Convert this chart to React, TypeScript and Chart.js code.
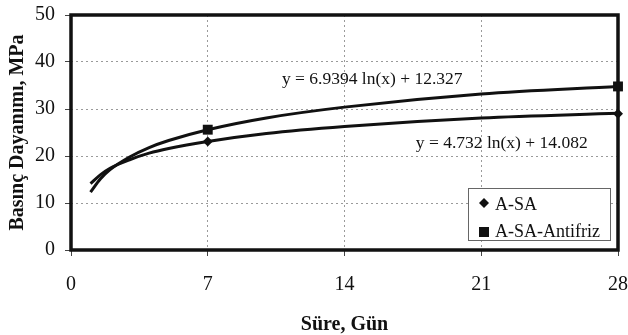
import React, { useEffect, useRef } from "react";
import { Chart, registerables } from "chart.js";

Chart.register(...registerables);

// Trend-curve sample days and values
const trendDays = [1, 1.5, 2, 3, 4, 5, 7, 10, 14, 21, 28];
const trendASA = [14.1, 16.0, 17.4, 19.2, 20.6, 21.6, 23.1, 24.8, 26.3, 28.1, 29.1];
const trendAntifriz = [12.3, 15.1, 17.1, 19.8, 21.8, 23.3, 25.6, 28.1, 30.4, 33.2, 34.8];

// Measured points
const sampleDays = [7, 28];
const valuesASA = [23.1, 29.0];
const valuesAntifriz = [25.6, 34.8];

const seriesNames = ["A-SA", "A-SA-Antifriz"];
const equationAntifriz = "y = 6.9394 ln(x) + 12.327";
const equationASA = "y = 4.732 ln(x) + 14.082";

const xTicks = [0, 7, 14, 21, 28];
const yTicks = [0, 10, 20, 30, 40, 50];
const xTitle = "Süre, Gün";
const yTitle = "Basınç Dayanımı, MPa";

const FONT = "'Liberation Serif', 'Times New Roman', serif";
const INK = "#111";

const toXY = (xs: number[], ys: number[]) => xs.map((x, i) => ({ x, y: ys[i] }));

export default function App() {
  const ref = useRef<HTMLCanvasElement | null>(null);

  useEffect(() => {
    if (!ref.current) return;

    const framePlugin = {
      id: "frameAndText",
      afterDatasetsDraw(chart: any) {
        const { ctx, chartArea: a, scales } = chart;
        ctx.save();
        // thick frame
        ctx.strokeStyle = INK;
        ctx.lineWidth = 3.5;
        ctx.strokeRect(a.left, a.top, a.right - a.left, a.bottom - a.top);

        // equations
        ctx.fillStyle = INK;
        ctx.font = `17.5px ${FONT}`;
        ctx.textBaseline = "middle";
        ctx.textAlign = "left";
        ctx.fillText(equationAntifriz, scales.x.getPixelForValue(10.8), scales.y.getPixelForValue(36.4));
        ctx.fillText(equationASA, scales.x.getPixelForValue(17.65), scales.y.getPixelForValue(22.6));

        // legend box
        const bx = a.right - 150;
        const by = a.bottom - 62;
        const bw = 142;
        const bh = 52;
        ctx.fillStyle = "#fff";
        ctx.fillRect(bx, by, bw, bh);
        ctx.strokeStyle = "#666";
        ctx.lineWidth = 1;
        ctx.strokeRect(bx + 0.5, by + 0.5, bw, bh);

        ctx.fillStyle = INK;
        // diamond
        const dx = bx + 16, dy = by + 15;
        ctx.beginPath();
        ctx.moveTo(dx, dy - 5);
        ctx.lineTo(dx + 5, dy);
        ctx.lineTo(dx, dy + 5);
        ctx.lineTo(dx - 5, dy);
        ctx.closePath();
        ctx.fill();
        // square
        ctx.fillRect(bx + 11, by + 39, 10, 10);

        ctx.font = `18px ${FONT}`;
        ctx.textBaseline = "middle";
        ctx.fillText(seriesNames[0], bx + 27, by + 17);
        ctx.fillText(seriesNames[1], bx + 27, by + 44);
        ctx.restore();
      },
    };

    const chart = new Chart(ref.current, {
      type: "scatter",
      data: {
        datasets: [
          {
            label: seriesNames[0] + " trend",
            data: toXY(trendDays, trendASA),
            showLine: true,
            borderColor: INK,
            borderWidth: 3,
            pointRadius: 0,
            cubicInterpolationMode: "monotone",
            fill: false,
          },
          {
            label: seriesNames[1] + " trend",
            data: toXY(trendDays, trendAntifriz),
            showLine: true,
            borderColor: INK,
            borderWidth: 3,
            pointRadius: 0,
            cubicInterpolationMode: "monotone",
            fill: false,
          },
          {
            label: seriesNames[0],
            data: toXY(sampleDays, valuesASA),
            pointStyle: "rectRot",
            pointRadius: 5,
            backgroundColor: INK,
            borderColor: INK,
            borderWidth: 0,
            clip: false,
          } as any,
          {
            label: seriesNames[1],
            data: toXY(sampleDays, valuesAntifriz),
            pointStyle: "rect",
            pointRadius: 7,
            backgroundColor: INK,
            borderColor: INK,
            borderWidth: 0,
            clip: false,
          } as any,
        ],
      },
      options: {
        animation: false,
        responsive: false,
        layout: { padding: { top: 15, right: 10, bottom: 0, left: 0 } },
        plugins: {
          legend: { display: false },
          tooltip: { enabled: false },
        },
        scales: {
          x: {
            type: "linear",
            min: 0,
            max: 28,
            afterBuildTicks: (s: any) => {
              s.ticks = xTicks.map((v) => ({ value: v }));
            },
            afterFit: (s: any) => {
              s.height = 85;
              s.paddingLeft = 0;
              s.paddingRight = 0;
            },
            ticks: {
              color: INK,
              font: { family: FONT, size: 20 },
              padding: 17,
              maxRotation: 0,
            },
            grid: {
              color: "#9a9a9a",
              lineWidth: 1,
              tickColor: "#444",
              tickLength: 6,
              tickBorderDash: [],
            },
            border: { display: false, dash: [2, 3] },
            title: {
              display: true,
              text: xTitle,
              color: INK,
              font: { family: FONT, size: 20, weight: "bold" },
              padding: { top: 0, bottom: -2 },
            },
          },
          y: {
            type: "linear",
            min: 0,
            max: 50,
            afterBuildTicks: (s: any) => {
              s.ticks = yTicks.map((v) => ({ value: v }));
            },
            afterFit: (s: any) => {
              s.width = 71;
              s.paddingTop = 0;
              s.paddingBottom = 0;
            },
            ticks: {
              color: INK,
              font: { family: FONT, size: 20 },
              padding: 10,
            },
            grid: {
              color: "#9a9a9a",
              lineWidth: 1,
              tickColor: "#444",
              tickLength: 6,
              tickBorderDash: [],
            },
            border: { display: false, dash: [2, 3] },
            title: {
              display: true,
              text: yTitle,
              color: INK,
              font: { family: FONT, size: 20, weight: "bold" },
              padding: { top: 6, bottom: 0 },
            },
          },
        },
      } as any,
      plugins: [framePlugin],
    });

    return () => chart.destroy();
  }, []);

  return (
    <div style={{ position: "absolute", left: 0, top: 0, width: 628, height: 335, background: "#fff" }}>
      <canvas ref={ref} width={628} height={335} />
    </div>
  );
}
